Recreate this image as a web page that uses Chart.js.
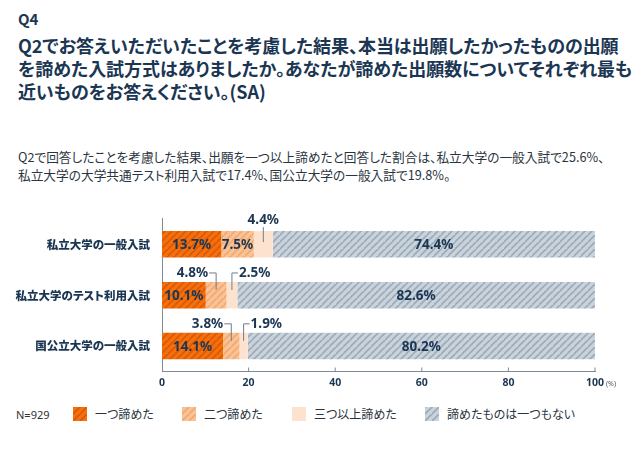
<!DOCTYPE html>
<html><head><meta charset="utf-8">
<script src="https://cdn.jsdelivr.net/npm/chart.js@4.4.1/dist/chart.umd.min.js"></script>
<style>
html,body{margin:0;padding:0;background:#fff;}
body{width:640px;height:453px;position:relative;overflow:hidden;font-family:"Noto Sans CJK JP","Noto Sans",sans-serif;color:#1b3653;font-feature-settings:"palt";}
#q{position:absolute;left:18px;top:10px;font-size:15px;font-weight:700;line-height:18px;}
#title{position:absolute;left:18px;top:34px;font-size:18px;font-weight:700;line-height:23px;white-space:nowrap;letter-spacing:-0.05px;}
#sub{position:absolute;left:18px;top:148px;font-size:12.7px;line-height:18px;color:#2a3440;white-space:nowrap;}
#wrap{position:absolute;left:0;top:200px;width:640px;height:200px;}
#legend{position:absolute;left:0;top:405px;width:640px;height:20px;font-size:12px;color:#2a3440;}
.n{position:absolute;left:16px;top:2px;font-family:"Noto Sans",sans-serif;font-size:11px;color:#333;}
.li{position:absolute;top:0;display:flex;align-items:center;}
.sw{width:14px;height:14px;margin-right:8px;}
</style></head>
<body>
<div id="q">Q4</div>
<div id="title">Q2でお答えいただいたことを考慮した結果、本当は出願したかったものの出願<br>を諦めた入試方式はありましたか。あなたが諦めた出願数についてそれぞれ最も<br>近いものをお答えください。(SA)</div>
<div id="sub">Q2で回答したことを考慮した結果、出願を一つ以上諦めたと回答した割合は、私立大学の一般入試で25.6%、<br>私立大学の大学共通テスト利用入試で17.4%、国公立大学の一般入試で19.8%。</div>
<div id="wrap"><canvas id="c" width="640" height="200"></canvas></div>
<div id="legend"></div>
<script>
const categories = ["私立大学の一般入試", "私立大学のテスト利用入試", "国公立大学の一般入試"];
const seriesNames = ["一つ諦めた", "二つ諦めた", "三つ以上諦めた", "諦めたものは一つもない"];
const oneGaveUp = [13.7, 10.1, 14.1];
const twoGaveUp = [7.5, 4.8, 3.8];
const threePlusGaveUp = [4.4, 2.5, 1.9];
const noneGaveUp = [74.4, 82.6, 80.2];
const xTicks = [0, 20, 40, 60, 80, 100];
const sampleLabel = "N=929";

function stripe(base, line) {
  const s = 7;
  const c = document.createElement('canvas');
  c.width = s; c.height = s;
  const g = c.getContext('2d');
  g.fillStyle = base; g.fillRect(0, 0, s, s);
  if (line) {
    g.strokeStyle = line; g.lineWidth = 1.6;
    g.beginPath();
    g.moveTo(-1, s + 1); g.lineTo(s + 1, -1);
    g.moveTo(-1 - s, s + 1); g.lineTo(1, -1);
    g.moveTo(s - 1, 2 * s + 1); g.lineTo(2 * s + 1, s - 1);
    g.stroke();
  }
  return c;
}
const ctx0 = document.getElementById('c').getContext('2d');
const swatches = [stripe('#f4700f', '#dc5800'), stripe('#f9c397', '#f4a86c'), stripe('#fde3cf', null), stripe('#c9d3dc', '#9daab7')];
const fills = swatches.map(s => ctx0.createPattern(s, 'repeat'));
const allSeries = [oneGaveUp, twoGaveUp, threePlusGaveUp, noneGaveUp];

// legend
const legend = document.getElementById('legend');
legend.innerHTML = '<span class="n">' + sampleLabel + '</span>';
const lx = [73, 182, 292, 425];
seriesNames.forEach((n, i) => {
  const d = document.createElement('div');
  d.className = 'li'; d.style.left = lx[i] + 'px';
  const sw = document.createElement('canvas');
  sw.width = 14; sw.height = 14; sw.className = 'sw';
  const g = sw.getContext('2d');
  g.fillStyle = g.createPattern(swatches[i], 'repeat'); g.fillRect(0, 0, 14, 14);
  d.appendChild(sw);
  const t = document.createElement('span'); t.textContent = n; d.appendChild(t);
  legend.appendChild(d);
});

const navy = '#1b3653';
const labelFont = 'bold 13.5px "Noto Sans", "DejaVu Sans", sans-serif';

const labelPlugin = {
  id: 'labels',
  afterDatasetsDraw(chart) {
    const g = chart.ctx;
    g.save();
    g.font = labelFont;
    g.fillStyle = navy;
    g.strokeStyle = '#6f7d8b';
    g.lineWidth = 1;
    const n = categories.length;
    for (let r = 0; r < n; r++) {
      const outside = allSeries.map(s => s[r] < 6);
      const bothOut = outside[1] && outside[2];
      allSeries.forEach((s, d) => {
        const bar = chart.getDatasetMeta(d).data[r];
        const v = s[r];
        const txt = v.toFixed(1) + '%';
        const top = bar.y - bar.height / 2;
        if (!outside[d]) {
          g.textAlign = 'center'; g.textBaseline = 'middle';
          g.fillText(txt, (bar.x + bar.base) / 2, bar.y + 1);
          return;
        }
        const cx = (bar.x + bar.base) / 2;
        const ly = top - 9;
        g.beginPath();
        if (!bothOut) {
          g.moveTo(cx, top - 4); g.lineTo(cx, top + 11); g.stroke();
          g.textAlign = 'center'; g.textBaseline = 'middle';
          g.fillText(txt, cx, top - 11);
        } else if (d === 1) {
          g.moveTo(cx - 7, ly); g.lineTo(cx, ly); g.lineTo(cx, top + 8); g.stroke();
          g.textAlign = 'right'; g.textBaseline = 'middle';
          g.fillText(txt, cx - 8, ly);
        } else {
          g.moveTo(cx + 6, ly); g.lineTo(cx, ly); g.lineTo(cx, top + 8); g.stroke();
          g.textAlign = 'left'; g.textBaseline = 'middle';
          g.fillText(txt, cx + 7, ly);
        }
      });
    }
    // upward x ticks and (%)
    const xs = chart.scales.x;
    const ya = chart.chartArea.bottom;
    g.strokeStyle = '#7f8b97';
    xTicks.forEach(t => {
      if (t === 0) return;
      const px = xs.getPixelForValue(t);
      g.beginPath(); g.moveTo(px, ya); g.lineTo(px, ya - 4); g.stroke();
    });
    g.font = '7px "Noto Sans", sans-serif';
    g.fillStyle = '#555';
    g.textAlign = 'left'; g.textBaseline = 'middle';
    g.fillText('(%)', xs.getPixelForValue(100) + 11, ya + 12);
    g.restore();
  }
};

new Chart(document.getElementById('c'), {
  type: 'bar',
  data: {
    labels: categories,
    datasets: allSeries.map((s, i) => ({
      label: seriesNames[i], data: s, backgroundColor: fills[i], borderWidth: 0,
      barPercentage: 0.52, categoryPercentage: 1
    }))
  },
  options: {
    indexAxis: 'y',
    responsive: false,
    animation: false,
    layout: { padding: { top: 11, right: 45, left: 0, bottom: 0 } },
    plugins: { legend: { display: false }, tooltip: { enabled: false } },
    scales: {
      x: {
        stacked: true, min: 0, max: 100,
        afterBuildTicks: s => { s.ticks = xTicks.map(v => ({ value: v })); },
        grid: { display: false, drawTicks: false },
        border: { display: true, color: '#7f8b97', width: 1 },
        ticks: { color: navy, font: { family: '"Noto Sans", sans-serif', size: 10.5, weight: 'bold' }, padding: 5, maxRotation: 0 },
        afterFit: s => { s.height = 28.5; }
      },
      y: {
        stacked: true,
        grid: { display: false, drawTicks: false },
        border: { display: true, color: '#7f8b97', width: 1 },
        ticks: { color: navy, font: { family: '"Noto Sans CJK JP", sans-serif', size: 11.5, weight: '900' }, padding: 12 },
        afterFit: s => { s.width = 162; }
      }
    }
  },
  plugins: [labelPlugin]
});
</script>
</body></html>
